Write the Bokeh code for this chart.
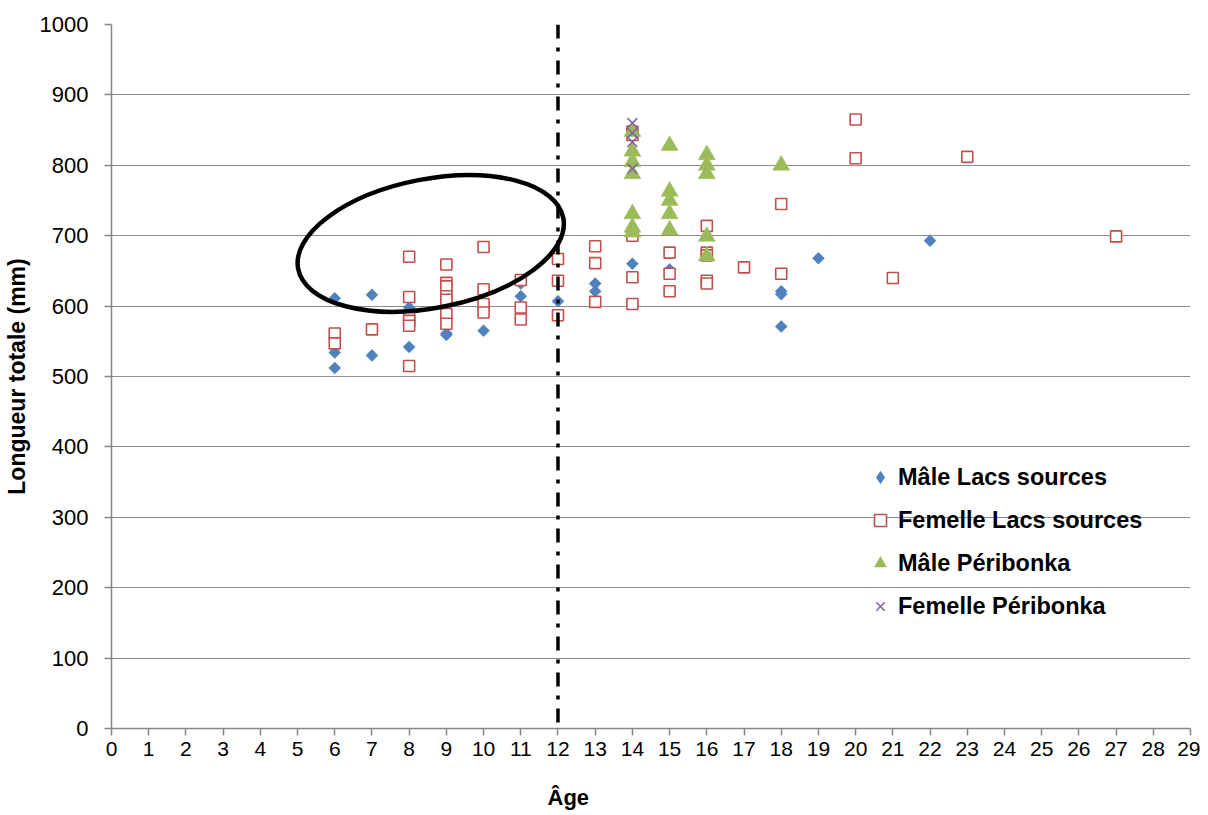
from bokeh.plotting import figure
from bokeh.models import Range1d, FixedTicker, Span, Legend, LegendItem, Title, LinearAxis
from bokeh.embed import file_html
from bokeh.resources import INLINE

# ---------------- data ----------------
male_lacs_age = [6, 6, 6, 7, 7, 8, 8, 9, 9, 10, 11, 11, 12, 13, 13, 14, 15, 18, 18, 18, 19, 22]
male_lacs_len = [611, 534, 512, 616, 530, 598, 542, 561, 559, 565, 632, 614, 607, 632, 621, 660, 652,
                 621, 617, 571, 668, 693]

fem_lacs_age = [6, 6, 7, 8, 8, 8, 8, 8, 8, 9, 9, 9, 9, 9, 9, 9, 10, 10, 10, 10, 11, 11, 11,
                12, 12, 12, 13, 13, 13, 14, 14, 14, 14, 14, 15, 15, 15, 16, 16, 16, 16, 16,
                17, 18, 18, 20, 20, 21, 23, 27]
fem_lacs_len = [561, 547, 567, 670, 613, 585, 579, 572, 515, 659, 633, 628, 614, 609, 589, 575,
                684, 624, 603, 591, 637, 598, 581, 667, 636, 587, 685, 661, 606, 848, 843, 700,
                641, 603, 676, 646, 621, 714, 676, 672, 636, 632, 655, 745, 646, 865, 810, 640,
                812, 699]

male_peri_age = [14, 14, 14, 14, 14, 14, 14, 15, 15, 15, 15, 15, 16, 16, 16, 16, 16, 18]
male_peri_len = [848, 820, 805, 788, 731, 712, 705, 828, 763, 750, 731, 708, 815, 800, 788, 699,
                 671, 800]

fem_peri_age = [14, 14, 14, 14]
fem_peri_len = [860, 846, 833, 795]

series_names = ["Mâle Lacs sources", "Femelle Lacs sources", "Mâle Péribonka", "Femelle Péribonka"]
x_title = "Âge"
y_title = "Longueur totale (mm)"
x_ticks = list(range(0, 30))
y_ticks = list(range(0, 1001, 100))
threshold_age = 12
# annotation ellipse (centre in data units)
ellipse_age, ellipse_len = 8.58, 689

FONT = "Liberation Sans"

p = figure(width=1200, height=815, x_range=Range1d(0, 29), y_range=Range1d(0, 1000),
           output_backend="svg", toolbar_location=None,
           min_border_left=111, min_border_right=10, min_border_top=24, min_border_bottom=87)
p.outline_line_color = None
p.background_fill_color = "white"
p.border_fill_color = "white"

p.xgrid.visible = False
p.ygrid.grid_line_color = "#8c8c8c"
p.ygrid.grid_line_width = 1.2

p.xaxis.ticker = FixedTicker(ticks=x_ticks)
p.yaxis.ticker = FixedTicker(ticks=y_ticks)
for ax in (p.xaxis, p.yaxis):
    ax.axis_line_color = "#868686"
    ax.axis_line_width = 1.5
    ax.major_tick_line_color = "#868686"
    ax.major_tick_line_width = 1.5
    ax.major_tick_in = 0
    ax.major_tick_out = 7
    ax.minor_tick_line_color = None
    ax.major_label_text_font = FONT
    ax.major_label_text_color = "black"
    ax.axis_label_text_font = FONT
    ax.axis_label_text_font_style = "bold"
    ax.axis_label_text_font_size = "23px"
    ax.axis_label_text_color = "black"

p.xaxis.major_label_text_font_size = "21px"
p.yaxis.major_label_text_font_size = "22px"
p.yaxis.axis_label = y_title
p.xaxis.major_label_standoff = 6
p.yaxis.major_label_standoff = 16
p.yaxis.axis_label_standoff = 7

# invisible spacer axis below the real x axis (pushes the x title down)
spacer = LinearAxis(ticker=FixedTicker(ticks=[0]), axis_line_color=None,
                    major_tick_in=0, major_tick_out=26, major_tick_line_color="white",
                    minor_tick_line_color=None, major_label_text_font_size="1px",
                    major_label_text_color=None, major_label_standoff=0)
p.add_layout(spacer, "below")

# x-axis title, placed left of centre as in the original
p.add_layout(Title(text=x_title, align="left", offset=436, vertical_align="top",
                   text_font=FONT, text_font_style="bold", text_font_size="22px",
                   text_color="black", standoff=0), "below")

blue, red, green, purple = "#4F81BD", "#C0504D", "#9BBB59", "#8064A2"

r_ml = p.scatter(male_lacs_age, male_lacs_len, marker="square", size=8.5, angle=0.785398,
                 fill_color=blue, line_color=blue, line_width=0.5)
r_fl = p.scatter(fem_lacs_age, fem_lacs_len, marker="square", size=11,
                 fill_color="white", line_color=red, line_width=1.6)
r_mp = p.scatter(male_peri_age, male_peri_len, marker="triangle", size=17,
                 fill_color=green, line_color=green, line_width=0.5)
r_fp = p.scatter(fem_peri_age, fem_peri_len, marker="x", size=14,
                 line_color=purple, line_width=1.6)

# legend proxy for the diamond (legend glyphs ignore marker angle); not drawn in the plot
nan = float("nan")
r_ml_leg = p.scatter(x=[nan], y=[nan], marker="diamond", size=12, fill_color=blue, line_color=blue)

p.ellipse(x=[ellipse_age], y=[ellipse_len], width=270, height=129, width_units="screen",
          height_units="screen", angle=0.19, fill_color=None, line_color="black", line_width=4.5)

p.add_layout(Span(location=threshold_age, dimension="height", line_color="black",
                  line_width=3.5, line_dash="14 9 4 9"))

legend = Legend(items=[LegendItem(label=series_names[0], renderers=[r_ml_leg]),
                       LegendItem(label=series_names[1], renderers=[r_fl]),
                       LegendItem(label=series_names[2], renderers=[r_mp]),
                       LegendItem(label=series_names[3], renderers=[r_fp])],
                location=(754, 107), orientation="vertical")
legend.glyph_width = 30
legend.glyph_height = 30
legend.label_height = 30
legend.spacing = 13
legend.padding = 0
legend.margin = 0
legend.label_standoff = 3
legend.label_text_font = FONT
legend.label_text_font_style = "bold"
legend.label_text_font_size = "23.5px"
legend.label_text_color = "black"
legend.background_fill_alpha = 0
legend.border_line_color = None
p.add_layout(legend)

open("out.html", "w").write(file_html(p, INLINE))
